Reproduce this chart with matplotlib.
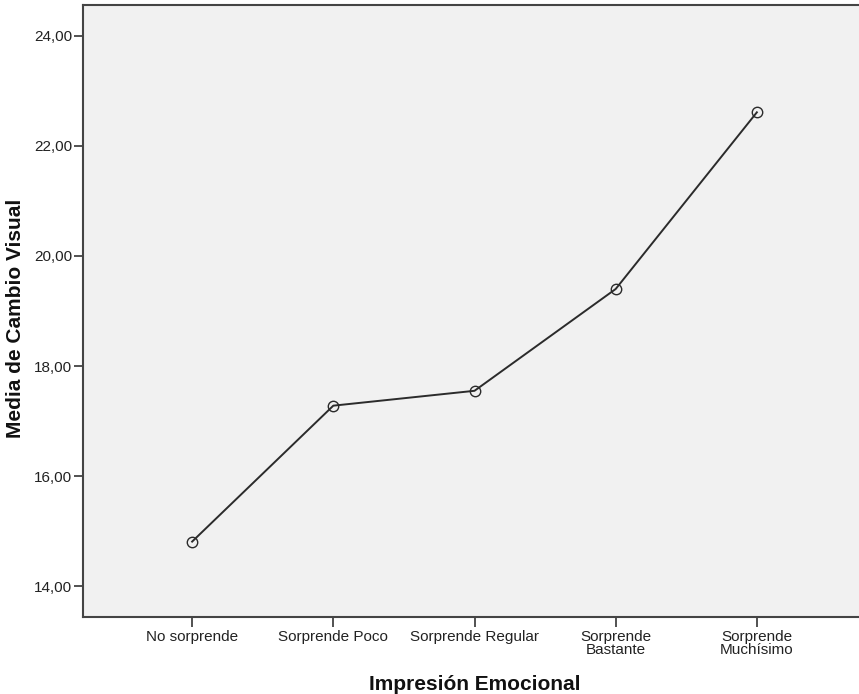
import matplotlib
matplotlib.use("Agg")
import matplotlib.pyplot as plt

categories = ["No sorprende", "Sorprende Poco", "Sorprende Regular", "Sorprende\nBastante", "Sorprende\nMuchísimo"]
means = [14.81, 17.28, 17.55, 19.40, 22.61]
yticks = [14, 16, 18, 20, 22, 24]
ytick_labels = ["14,00", "16,00", "18,00", "20,00", "22,00", "24,00"]

plt.rcParams['font.family'] = ['Liberation Sans', 'DejaVu Sans']

fig = plt.figure(figsize=(8.59, 6.94), dpi=100)
ax = fig.add_axes([83/859, 77/694, (866-83)/859, (617-5)/694])
ax.set_facecolor("#f1f1f1")

x = list(range(len(categories)))
ax.plot(x, means, color="#2b2b2b", linewidth=1.4, marker="o", markersize=7.5,
        markerfacecolor="none", markeredgecolor="#2b2b2b", markeredgewidth=1.0)

ax.set_xlim(-0.773, len(categories) - 1 + 0.773)
ax.set_ylim(13.44, 24.56)
ax.set_yticks(yticks)
ax.set_yticklabels(ytick_labels)
ax.set_xticks(x)
ax.set_xticklabels(categories, linespacing=1.0)

for s in ["left", "bottom", "top", "right"]:
    ax.spines[s].set_color("#444444")
    ax.spines[s].set_linewidth(1.5)

ax.tick_params(axis="both", direction="out", width=1.2, color="#333333",
               labelsize=11, labelcolor="#222222")
ax.tick_params(axis="x", length=7, pad=2)
ax.tick_params(axis="y", length=6.5, pad=1.5)

cx = (83 + 866) / 2 / 859
fig.text(cx, 1 - 690/694, "Impresión Emocional", fontsize=15, fontweight="bold",
         ha="center", va="baseline", color="#111111")
fig.text(16/859, 1 - 318/694, "Media de Cambio Visual", fontsize=15, fontweight="bold",
         ha="center", va="center", rotation=90, color="#111111")

fig.savefig("out.png", dpi=100)
